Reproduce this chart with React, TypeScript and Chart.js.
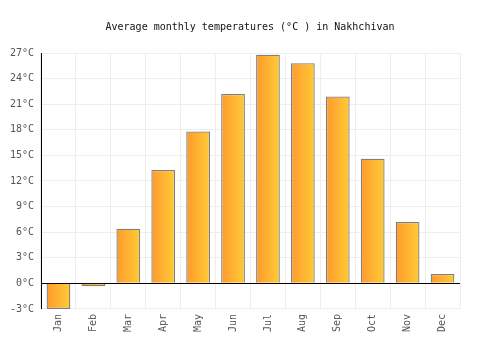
import React, { useEffect, useRef } from "react";
import { Chart, registerables } from "chart.js";

Chart.register(...registerables);

const months = ["Jan", "Feb", "Mar", "Apr", "May", "Jun", "Jul", "Aug", "Sep", "Oct", "Nov", "Dec"];
const temps = [-3.0, -0.35, 6.4, 13.3, 17.8, 22.2, 26.8, 25.8, 21.9, 14.6, 7.2, 1.1];
const yMin = -3;
const yMax = 27;
const yStep = 3;
const titleText = "Average monthly temperatures (°C ) in Nakhchivan";
const BAR_PCT = 0.68;

export default function App() {
  const ref = useRef<HTMLCanvasElement | null>(null);
  useEffect(() => {
    document.body.style.margin = "0";
    const canvas = ref.current;
    if (!canvas) return;
    const chart = new Chart(canvas, {
      type: "bar",
      data: {
        labels: months,
        datasets: [
          {
            data: temps,
            borderColor: "#7f7f7f",
            borderWidth: 1.3,
            barPercentage: BAR_PCT,
            categoryPercentage: 1,
            backgroundColor: (ctx: any) => {
              const c = ctx.chart;
              const xs = c.scales && c.scales.x;
              if (!c.chartArea || !xs) return "#ffb030";
              const cx = xs.getPixelForValue(ctx.dataIndex);
              const w = (c.chartArea.width / months.length) * BAR_PCT;
              const g = c.ctx.createLinearGradient(cx - w / 2, 0, cx + w / 2, 0);
              g.addColorStop(0, "#ff9a2e");
              g.addColorStop(1, "#ffcb35");
              return g;
            },
          },
        ],
      },
      options: {
        animation: false,
        responsive: false,
        maintainAspectRatio: false,
        layout: { padding: { left: 0, right: 0, top: 0, bottom: 13 } },
        plugins: {
          legend: { display: false },
          tooltip: { enabled: false },
          title: {
            display: true,
            text: titleText,
            color: "#111",
            font: { family: "DejaVu Sans Mono", size: 10, weight: "normal" },
            padding: { top: 21, bottom: 20 },
          },
        },
        scales: {
          x: {
            offset: true,
            grid: { color: "#eeeeee", drawTicks: false, offset: true },
            border: { color: "#eeeeee" },
            ticks: {
              color: "#555",
              font: { family: "DejaVu Sans Mono", size: 10 },
              minRotation: 90,
              maxRotation: 90,
              padding: 5,
            },
          },
          y: {
            min: yMin,
            max: yMax,
            afterFit: (axis: any) => {
              axis.width = 41;
            },
            grid: {
              drawTicks: false,
              color: (ctx: any) => (ctx.tick && ctx.tick.value === 0 ? "#000000" : "#eeeeee"),
            },
            border: { color: "#000000" },
            ticks: {
              stepSize: yStep,
              color: "#555",
              font: { family: "DejaVu Sans Mono", size: 10 },
              padding: 7,
              callback: (v: any) => v + "°C",
            },
          },
          yr: {
            position: "right",
            display: true,
            afterFit: (axis: any) => {
              axis.width = 40;
            },
            grid: { display: false },
            border: { display: false },
            ticks: { display: false },
          },
        },
      },
    });
    return () => chart.destroy();
  }, []);
  return (
    <div style={{ width: 500, height: 350 }}>
      <canvas ref={ref} width={500} height={350} style={{ width: 500, height: 350 }} />
    </div>
  );
}
